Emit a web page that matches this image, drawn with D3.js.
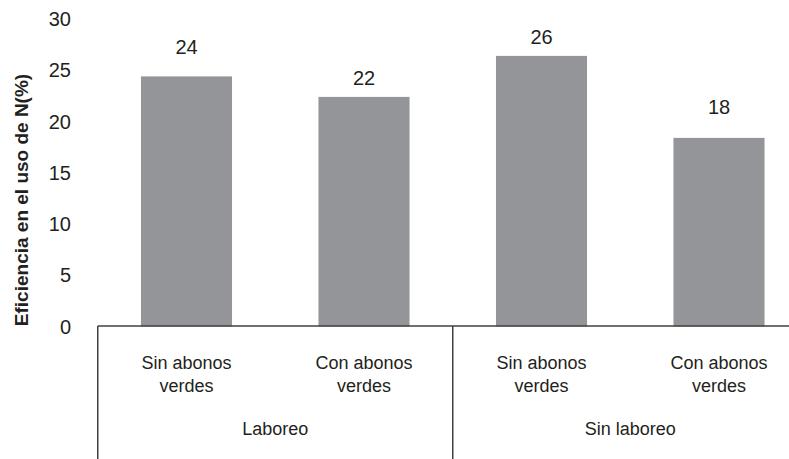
<!DOCTYPE html>
<html>
<head>
<meta charset="utf-8">
<script src="https://cdn.jsdelivr.net/npm/d3@7"></script>
<style>
  body { margin: 0; background: #fff; }
  text { font-family: "Liberation Sans", Arial, sans-serif; fill: #231f20; }
</style>
</head>
<body>
<svg width="789" height="459"></svg>
<script>
// values
var groups = ["Laboreo", "Sin laboreo"];
var treatments = [["Sin abonos", "verdes"], ["Con abonos", "verdes"]];
var efficiency = [24.4, 22.4, 26.4, 18.4];
var yTicks = [0, 5, 10, 15, 20, 25, 30];
// labels are nudged by hand in the original
var labelLift = [29, 19, 19, 31];

var svg = d3.select("svg");

var bars = [];
groups.forEach(function(g, gi) {
    treatments.forEach(function(t, ti) {
        bars.push({ key: g + "|" + ti, group: g, lines: t, value: efficiency[gi * treatments.length + ti] });
    });
});

var x = d3.scaleBand()
    .domain(bars.map(function(d) { return d.key; }))
    .range([97.75, 807.75])
    .paddingInner(0.487)
    .paddingOuter(0.2435);

var y = d3.scaleLinear()
    .domain([0, 30])
    .range([326.5, 19]);

// y tick labels, no axis line
svg.append("g")
    .selectAll("text")
    .data(yTicks)
    .enter().append("text")
    .attr("x", 71)
    .attr("y", function(d) { return y(d); })
    .attr("dy", "0.35em")
    .attr("text-anchor", "end")
    .style("font-size", "20px")
    .text(function(d) { return d; });

// y title
svg.append("text")
    .attr("transform", "translate(28,200) rotate(-90)")
    .attr("text-anchor", "middle")
    .style("font-size", "19px")
    .style("font-weight", "bold")
    .text("Eficiencia en el uso de N(%)");

svg.append("g")
    .selectAll("rect")
    .data(bars)
    .enter().append("rect")
    .attr("x", function(d) { return x(d.key); })
    .attr("width", x.bandwidth())
    .attr("y", function(d) { return y(d.value); })
    .attr("height", function(d) { return y(0) - y(d.value); })
    .attr("fill", "#939598");

svg.append("g")
    .selectAll("text")
    .data(bars)
    .enter().append("text")
    .attr("x", function(d) { return x(d.key) + x.bandwidth() / 2; })
    .attr("y", function(d, i) { return y(d.value) - labelLift[i]; })
    .attr("dy", "0.35em")
    .attr("text-anchor", "middle")
    .style("font-size", "20px")
    .text(function(d) { return d3.format(".0f")(d.value); });

// category axis with group boxes
var axisY = 326;
var step = x.step();
var left = x.range()[0];
svg.append("line")
    .attr("x1", left).attr("x2", 789)
    .attr("y1", axisY).attr("y2", axisY)
    .attr("stroke", "#404041").attr("stroke-width", 1.5);

var dividers = d3.range(groups.length + 1).map(function(i) { return left + i * treatments.length * step; });
svg.append("g")
    .selectAll("line")
    .data(dividers)
    .enter().append("line")
    .attr("x1", function(d) { return d; }).attr("x2", function(d) { return d; })
    .attr("y1", axisY).attr("y2", 459)
    .attr("stroke", "#404041").attr("stroke-width", 1.5);

var cat = svg.append("g")
    .selectAll("text")
    .data(bars)
    .enter().append("text")
    .attr("text-anchor", "middle")
    .style("font-size", "18px");
cat.selectAll("tspan")
    .data(function(d) { return d.lines.map(function(l) { return { l: l, cx: x(d.key) + x.bandwidth() / 2 }; }); })
    .enter().append("tspan")
    .attr("x", function(d) { return d.cx; })
    .attr("y", function(d, i) { return 363 + i * 23; })
    .attr("dy", "0.35em")
    .text(function(d) { return d.l; });

svg.append("g")
    .selectAll("text")
    .data(groups)
    .enter().append("text")
    .attr("x", function(d, i) { return (dividers[i] + dividers[i + 1]) / 2; })
    .attr("y", 429)
    .attr("dy", "0.35em")
    .attr("text-anchor", "middle")
    .style("font-size", "18px")
    .text(function(d) { return d; });
</script>
</body>
</html>
